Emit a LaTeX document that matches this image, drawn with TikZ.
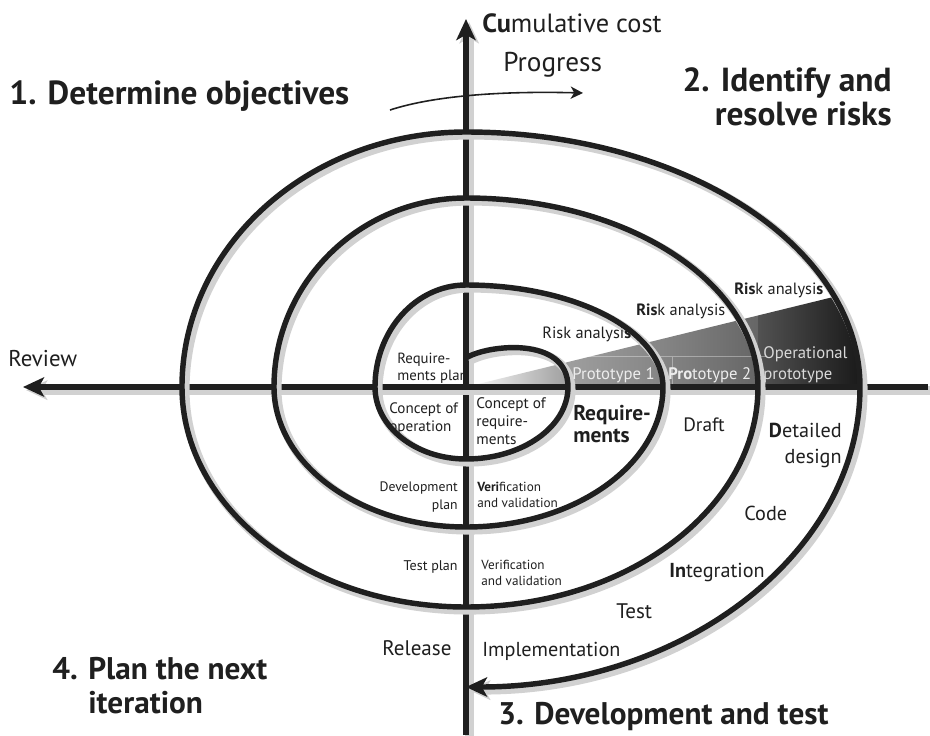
\documentclass[tikz,border=0pt]{standalone}
\usepackage{fontspec}
\setmainfont{PT Sans}
\usetikzlibrary{arrows.meta}

\colorlet{ink}{black!88}

\begin{document}
\begin{tikzpicture}[x=0.02cm, y=0.02cm, >={Stealth[length=12pt, width=11pt, inset=3pt]},
  shadowed/.style={preaction={draw=black!18, line width=5pt,
      transform canvas={shift={(1.8pt,-1.8pt)}}}},
  axis/.style={ink, line width=3pt, shadowed},
  spiral/.style={ink, line width=3.1pt, shadowed},
  lbl/.style={inner sep=0pt, text=ink, font=\fontsize{9}{10}\selectfont},
  mid/.style={inner sep=0pt, text=ink, font=\fontsize{11.5}{14.8}\selectfont},
  big/.style={inner sep=0pt, text=ink, font=\bfseries\fontsize{17.8}{19.3}\selectfont},
  proto/.style={inner sep=0pt, text=white!93!black, font=\fontsize{9.5}{12}\selectfont}]

\path[use as bounding box, fill=white] (-466,-348) rectangle (464,387);

% Keil der Prototypen
\begin{scope}
  \clip (0,0) -- (400,98) -- (400,0) -- cycle;
  \clip (0,0) ellipse [x radius=394, y radius=255];
  \shade[left color=white, right color=black!38] (0,0) rectangle (102,100);
  \shade[left color=black!38, right color=black!48] (102,0) rectangle (197,100);
  \shade[left color=black!48, right color=black!60] (197,0) rectangle (292,100);
  \shade[left color=black!68, right color=black!90] (292,0) rectangle (395,100);
\end{scope}
\draw[white, opacity=.35, line width=.5pt] (99,0) |- (301,31) (206,31) -- (206,-11);

% Achsen
\coordinate (top) at (0,368);
\coordinate (bot) at (0,-348);
\coordinate (lft) at (-443,0);
\coordinate (rgt) at (462,0);
\draw[axis, ->] (bot) -- (top);
\draw[axis, ->] (rgt) -- (lft);

% Spirale
\coordinate (sstart) at (0,29);
\coordinate (sin) at (102,0);
\draw[spiral, ->] (sstart) .. controls (20,42) and (102,52) .. (sin)
  arc[start angle=0, end angle=-90, x radius=102, y radius=72]
  arc[start angle=270, end angle=180, x radius=91, y radius=72]
  arc[start angle=180, end angle=90, x radius=91, y radius=102]
  arc[start angle=90, end angle=0, x radius=197, y radius=102]
  arc[start angle=0, end angle=-90, x radius=197, y radius=140]
  arc[start angle=270, end angle=180, x radius=192, y radius=140]
  arc[start angle=180, end angle=90, x radius=192, y radius=189]
  arc[start angle=90, end angle=0, x radius=292, y radius=189]
  arc[start angle=0, end angle=-90, x radius=292, y radius=220]
  arc[start angle=270, end angle=180, x radius=284, y radius=220]
  arc[start angle=180, end angle=90, x radius=284, y radius=255]
  arc[start angle=90, end angle=0, x radius=394, y radius=255]
  arc[start angle=0, end angle=-90, x radius=394, y radius=300];

% Fortschritt
\coordinate (ptail) at (-76,277);
\coordinate (phead) at (117,294);
\draw[ink, line width=0.9pt, -{Stealth[length=7pt, width=7pt, inset=2pt]}]
  (ptail) .. controls (-30,292) and (40,296) .. (phead);

% Quadranten
\node[big, anchor=west, font=\bfseries\fontsize{19}{19.3}\selectfont] (obj) at (-457,291) {1. Determine objectives};
\node[big, anchor=east, align=right, font=\bfseries\fontsize{19}{19.3}\selectfont] (risks) at (426,290) {2. Identify and\\resolve risks};
\node[big, anchor=west] (devtest) at (32,-330) {3. Development and test};
\node[big, anchor=west, align=left] (plan) at (-414,-299) {4. Plan the next\\\phantom{4. }iteration};

\node[inner sep=0pt, text=ink, font=\fontsize{15}{16}\selectfont, anchor=west] (cost) at (16,364) {\textbf{Cu}mulative cost};
\node[inner sep=0pt, text=ink, font=\fontsize{15.5}{17}\selectfont, anchor=west] (progress) at (37,322) {Progress};
\node[mid, anchor=west, font=\fontsize{13}{15}\selectfont] (review) at (-458,28) {Review};

% Risikoanalysen
\foreach \n/\x/\y/\t in {1/76/53/{Risk analysi\textbf{s}},
                        2/170/76/{\textbf{Ris}k analysis},
                        3/268/97/{\textbf{Ris}k analysi\textbf{s}}} {
  \node[lbl, font=\fontsize{9.3}{10}\selectfont, anchor=west] (risk\n) at (\x,\y) {\t};
}
\node[proto, anchor=west] (proto1) at (106,12) {Prototype 1};
\node[proto, anchor=west] (proto2) at (202,12) {\textbf{Pro}totype 2};
\node[proto, anchor=west, align=left, text=white!85!black] (oper) at (297,22) {Operational\\prototype};

% innere Felder
\node[lbl, anchor=west, align=left, font=\fontsize{8.4}{9.7}\selectfont] (reqplan) at (-69,19) {Require-\\ments plan};
\node[lbl, anchor=west, align=left, font=\fontsize{8.6}{10.2}\selectfont] (conop) at (-77,-32) {Concept of\\operation};
\node[lbl, anchor=west, align=left, font=\fontsize{8.7}{10.2}\selectfont] (conreq) at (10,-34) {Concept of\\require-\\ments};
\node[lbl, anchor=west, align=left, font=\bfseries\fontsize{12.2}{13}\selectfont] (reqs) at (107,-37) {Require-\\ments};
\node[lbl, anchor=east, align=right, font=\fontsize{7.8}{9.7}\selectfont] (devplan) at (-8,-110) {Development\\plan};
\node[lbl, anchor=east, font=\fontsize{8}{10}\selectfont] (testplan) at (-8,-180) {Test plan};
\node[lbl, anchor=west, align=left, font=\fontsize{7.5}{9.5}\selectfont] (verval1) at (11,-108) {\textbf{Veri}fication\\and validation};
\node[lbl, anchor=west, align=left, font=\fontsize{7.5}{9.5}\selectfont] (verval2) at (15,-186) {Verification\\and validation};

% Entwicklung
\node[mid, anchor=west, font=\fontsize{11}{13}\selectfont] (draft) at (217,-38) {Draft};
\node[mid, anchor=east, align=right] (detail) at (376,-58) {\textbf{D}etailed\\design};
\node[mid, anchor=west] (code) at (278,-126) {Code};
\node[mid, anchor=west] (integ) at (203,-185) {\textbf{In}tegration};
\node[mid, anchor=west, font=\fontsize{12}{14}\selectfont] (test) at (150,-224) {Test};
\node[mid, anchor=west] (impl) at (16,-264) {Implementation};
\node[mid, anchor=west, font=\fontsize{12}{14}\selectfont] (release) at (-84,-261) {Release};

\end{tikzpicture}
\end{document}
